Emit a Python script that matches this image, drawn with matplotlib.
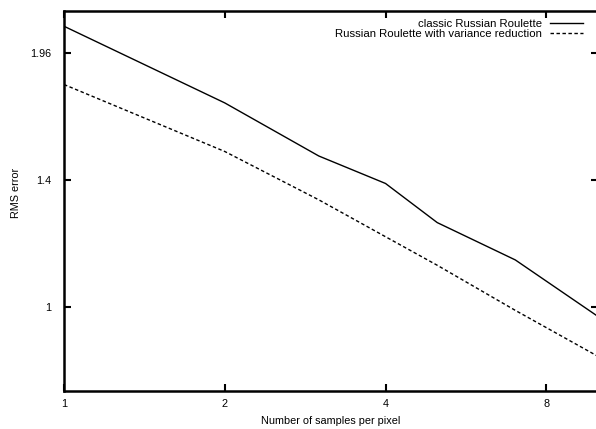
import matplotlib
matplotlib.use("Agg")
import matplotlib.pyplot as plt
from matplotlib.ticker import FixedLocator, FixedFormatter, NullLocator

# samples per pixel
samples = [1, 2, 3, 4, 5, 7, 10]

# RMS error
classic_rr = [2.107, 1.719, 1.493, 1.388, 1.251, 1.133, 0.975]
rr_var_red = [1.805, 1.511, 1.329, 1.205, 1.117, 0.991, 0.877]

x_ticks = [1, 2, 4, 8]
x_tick_labels = ["1", "2", "4", "8"]
y_ticks = [1, 1.4, 1.96]
y_tick_labels = ["1", "1.4", "1.96"]

plt.rcParams["font.family"] = ["Liberation Sans", "DejaVu Sans"]

fig = plt.figure(figsize=(5.96, 4.29), dpi=100)
ax = fig.add_axes([64 / 596, 38 / 429, 534 / 596, 380 / 429])

ax.plot(samples, classic_rr, color="black", linewidth=1.0,
        label="classic Russian Roulette")
ax.plot(samples, rr_var_red, color="black", linewidth=1.0,
        linestyle=(0, (2.5, 1.8)),
        label="Russian Roulette with variance reduction")

ax.set_xscale("log")
ax.set_yscale("log")
ax.set_xlim(1, 10)
ax.set_ylim(0.8, 2.194)

ax.xaxis.set_major_locator(FixedLocator(x_ticks))
ax.xaxis.set_major_formatter(FixedFormatter(x_tick_labels))
ax.xaxis.set_minor_locator(NullLocator())
ax.yaxis.set_major_locator(FixedLocator(y_ticks))
ax.yaxis.set_major_formatter(FixedFormatter(y_tick_labels))
ax.yaxis.set_minor_locator(NullLocator())

ax.tick_params(which="both", direction="in", top=True, right=True,
               length=5, width=1.5, labelsize=7.8)
ax.tick_params(axis="y", pad=9)
ax.tick_params(axis="x", pad=6)

for s in ax.spines.values():
    s.set_linewidth(1.8)

ax.set_xlabel("Number of samples per pixel", fontsize=7.8, labelpad=5)
ax.set_ylabel("RMS error", fontsize=7.8)
ax.yaxis.set_label_coords(-0.081, 0.52)

leg = ax.legend(loc="upper right", bbox_to_anchor=(0.972, 0.980),
                frameon=False, markerfirst=False, fontsize=8.2,
                handlelength=2.9, handletextpad=0.7, labelspacing=0.05,
                borderaxespad=0.0, borderpad=0.0)

fig.savefig("out.png", dpi=100)
